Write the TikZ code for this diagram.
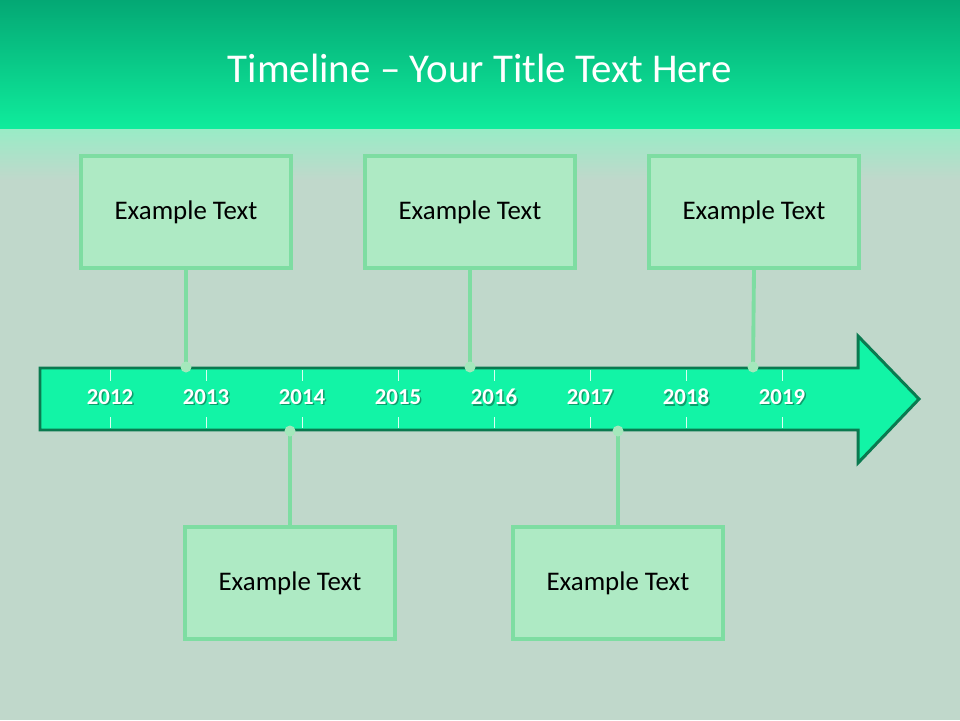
\documentclass[tikz,border=0pt]{standalone}
\usepackage{fontspec}
\setmainfont{Carlito}
\usetikzlibrary{positioning}
\definecolor{titletop}{HTML}{04A874}
\definecolor{titlebot}{HTML}{0FEC9C}
\definecolor{board}{HTML}{C0D8CB}
\definecolor{boardlight}{HTML}{98ECC6}
\definecolor{arrowfill}{HTML}{12F4A6}
\definecolor{arrowline}{HTML}{0A7A50}
\definecolor{boxfill}{HTML}{AEEAC4}
\definecolor{boxline}{HTML}{7EDDA2}
\definecolor{dotfill}{HTML}{A4E8BC}

\begin{document}
\begin{tikzpicture}[x=0.02cm, y=-0.02cm,
    textbox/.style={draw=boxline, fill=boxfill, line width=1.8pt,
        minimum width=4.2cm, minimum height=2.24cm,
        font=\fontsize{15.3}{18}\selectfont},
    link/.style={draw=boxline, line width=2.2pt},
    dot/.style={circle, fill=dotfill, inner sep=0pt, minimum size=0.22cm},
    tick/.style={draw=white, line width=0.5pt, opacity=0.85},
    yearlabel/.style={white, font=\fontsize{13}{15}\selectfont\bfseries},
    yearshadow/.style={black, opacity=0.35, font=\fontsize{13}{15}\selectfont\bfseries}]
    \useasboundingbox (0,0) rectangle (960,720);

    % Background
    \fill[board] (0,0) rectangle (960,720);
    \shade[top color=boardlight, bottom color=board] (0,128) rectangle (960,180);
    \shade[top color=titletop, bottom color=titlebot] (0,0) rectangle (960,128);

    % Title
    \node[white, font=\fontsize{23.3}{28}\selectfont] (title) at (480,68) {Timeline – Your Title Text Here};

    % Arrow
    \draw[fill=arrowfill, draw=arrowline, line width=1.7pt, line join=miter]
        (40,368) -- (858,368) -- (858,336) -- (919,399) -- (858,463)
        -- (858,430) -- (40,430) -- cycle;

    % Years and ticks
    \foreach \yr [count=\i from 0] in {2012,2013,...,2019} {
        \pgfmathsetmacro{\x}{110+96*\i}
        \draw[tick] (\x,370) -- (\x,381);
        \draw[tick] (\x,417) -- (\x,428);
        \node[yearshadow] at (\x+1.5,398.5) {\yr};
        \node[yearlabel] (y\yr) at (\x,397) {\yr};
    }

    % Points on the arrow
    \coordinate (p1) at (186,367);
    \coordinate (p2) at (470,367);
    \coordinate (p3) at (753,367);
    \coordinate (p4) at (290,431);
    \coordinate (p5) at (618,431);

    % Text boxes
    \node[textbox] (b1) at (186,212) {Example Text};
    \node[textbox] (b2) at (470,212) {Example Text};
    \node[textbox] (b3) at (754,212) {Example Text};
    \node[textbox] (b4) at (290,583) {Example Text};
    \node[textbox] (b5) at (618,583) {Example Text};

    % Connectors
    \draw[link] (b1.south) -- (p1);
    \draw[link] (b2.south) -- (p2);
    \draw[link] (b3.south) -- (p3);
    \draw[link] (b4.north) -- (p4);
    \draw[link] (b5.north) -- (p5);
    \foreach \p in {p1,p2,p3,p4,p5}
        \node[dot] at (\p) {};
\end{tikzpicture}
\end{document}
